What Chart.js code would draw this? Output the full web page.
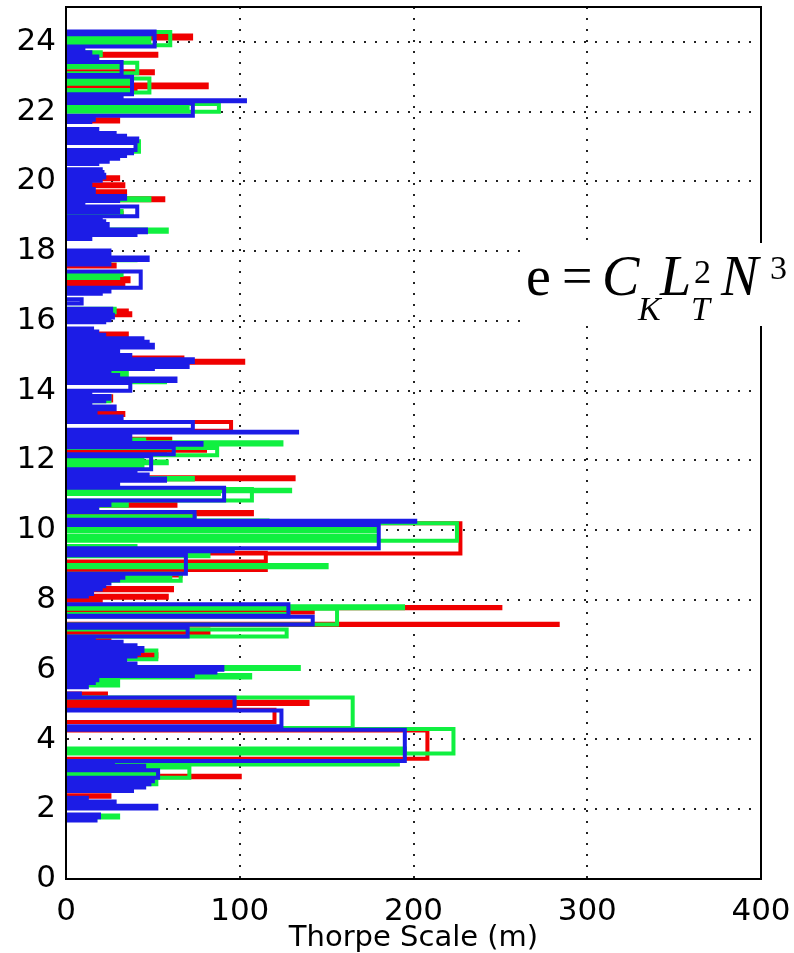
<!DOCTYPE html>
<html>
<head>
<meta charset="utf-8">
<script src="https://cdn.jsdelivr.net/npm/chart.js@4/dist/chart.umd.min.js"></script>
<style>
  html, body { margin: 0; padding: 0; background: #fff; }
  #wrap { width: 794px; height: 953px; }
</style>
</head>
<body>
<div id="wrap"><canvas id="chart" width="794" height="953"></canvas></div>
<script>
// overturns: [top depth, bottom depth, Thorpe scale (m)]
const redSegs = [
  [24.18, 24.10, 72], [23.98, 23.94, 25], [23.66, 23.60, 52], [23.16, 23.10, 50],
  [22.78, 22.70, 81], [22.72, 22.64, 40], [21.78, 21.72, 30], [21.20, 21.16, 25],
  [20.12, 20.06, 30], [19.92, 19.86, 33], [19.72, 19.66, 34], [19.52, 19.46, 56],
  [19.10, 19.04, 32], [17.62, 17.56, 28], [17.22, 17.14, 36], [17.12, 17.04, 33],
  [16.30, 16.24, 35], [16.22, 16.16, 37], [15.64, 15.56, 35], [14.95, 14.90, 67],
  [14.86, 14.80, 102], [14.50, 14.44, 30], [13.84, 13.72, 26], [13.36, 13.30, 33],
  [13.10, 12.85, 95], [12.62, 12.56, 60], [12.34, 12.28, 80], [12.30, 12.20, 57],
  [11.52, 11.46, 131], [10.76, 10.70, 63], [10.52, 10.46, 107], [10.26, 10.22, 126],
  [10.20, 9.33, 227], [9.35, 9.10, 115], [8.92, 8.86, 115], [8.85, 8.77, 66],
  [8.76, 8.70, 66], [8.34, 8.28, 61], [8.12, 8.06, 58], [8.02, 7.98, 20],
  [7.80, 7.76, 250], [7.70, 7.64, 142], [7.32, 7.28, 283], [7.15, 7.07, 82],
  [7.07, 7.00, 82], [6.86, 6.82, 25], [6.44, 6.38, 52], [5.32, 5.26, 23],
  [5.08, 5.02, 139], [5.10, 5.02, 97], [5.00, 4.90, 97], [4.85, 4.50, 120],
  [4.26, 3.45, 208], [2.96, 2.92, 100], [2.40, 2.36, 25]
];

const greenSegs = [
  [24.28, 23.90, 60], [24.22, 24.15, 48], [24.05, 23.97, 48], [23.70, 23.62, 20],
  [23.40, 23.10, 41], [23.35, 23.27, 30], [22.95, 22.55, 48], [22.88, 22.80, 36],
  [22.62, 22.56, 36], [22.22, 22.00, 88], [22.15, 22.07, 70], [21.15, 20.85, 42],
  [19.52, 19.46, 48], [19.15, 19.08, 32], [18.62, 18.56, 58], [17.80, 17.74, 40],
  [17.40, 17.32, 32], [17.31, 17.23, 30], [16.35, 16.25, 28], [16.25, 16.15, 20],
  [14.55, 14.45, 35], [14.30, 14.24, 57], [13.85, 13.77, 25], [13.76, 13.70, 25],
  [12.60, 12.55, 45], [12.52, 12.46, 124], [12.36, 12.15, 87], [12.10, 11.78, 44],
  [12.05, 11.97, 44], [11.97, 11.92, 58], [11.88, 11.80, 44], [11.50, 11.45, 73],
  [11.16, 11.12, 129], [11.18, 10.85, 107], [11.12, 11.04, 88], [10.80, 10.70, 35],
  [10.40, 10.30, 74], [10.28, 10.24, 116], [10.20, 9.70, 225], [10.05, 9.97, 178],
  [9.84, 9.76, 178], [9.55, 9.48, 40], [9.30, 9.25, 82], [9.00, 8.94, 150],
  [8.75, 8.55, 66], [8.70, 8.62, 60], [7.82, 7.76, 194], [7.75, 7.30, 156],
  [7.60, 7.52, 128], [7.15, 6.95, 127], [6.55, 6.30, 52], [6.08, 6.02, 134],
  [5.85, 5.78, 106], [5.70, 5.62, 30], [5.62, 5.55, 30], [5.20, 4.33, 165],
  [4.30, 3.60, 223], [3.74, 3.68, 195], [3.32, 3.28, 191], [3.20, 2.90, 71],
  [3.02, 2.94, 53], [2.95, 2.85, 50], [2.80, 2.72, 52], [1.82, 1.76, 30]
];

const blueSegs = [
  [24.30, 24.22, 51], [24.30, 23.87, 51], [23.80, 23.70, 10], [23.70, 23.60, 14],
  [23.58, 23.48, 18], [23.42, 23.05, 32], [23.00, 22.50, 38], [22.45, 22.36, 32],
  [22.33, 22.30, 103], [22.25, 21.88, 73], [21.84, 21.77, 16], [21.77, 21.70, 14],
  [21.50, 21.40, 18], [21.39, 21.31, 28], [21.31, 21.23, 34], [21.23, 21.15, 41],
  [21.10, 20.90, 40], [20.89, 20.81, 38], [20.81, 20.73, 34], [20.73, 20.65, 30],
  [20.64, 20.56, 24], [20.56, 20.50, 18], [20.35, 20.27, 20], [20.27, 20.19, 21],
  [20.19, 20.11, 22], [20.10, 20.02, 20], [19.95, 19.87, 14], [19.86, 19.78, 14],
  [19.78, 19.70, 16], [19.69, 19.61, 16], [19.58, 19.50, 34], [19.50, 19.44, 30],
  [19.40, 19.32, 10], [19.28, 19.00, 41], [19.20, 19.12, 30], [18.95, 18.87, 20],
  [18.86, 18.78, 22], [18.78, 18.70, 24], [18.62, 18.54, 46], [18.54, 18.46, 40],
  [18.42, 18.35, 14], [18.02, 17.94, 25], [17.94, 17.86, 25], [17.82, 17.75, 47],
  [17.72, 17.62, 25], [17.42, 16.95, 43], [16.92, 16.84, 25], [16.84, 16.78, 20],
  [16.62, 16.50, 9], [16.35, 16.27, 26], [16.27, 16.19, 26], [16.18, 16.10, 27],
  [16.10, 16.02, 25], [16.02, 15.96, 22], [15.78, 15.70, 15], [15.70, 15.62, 18],
  [15.60, 15.52, 22], [15.50, 15.42, 44], [15.40, 15.32, 47], [15.32, 15.24, 50],
  [15.22, 15.14, 30], [15.12, 15.04, 15], [15.02, 14.95, 37], [14.90, 14.82, 73],
  [14.76, 14.68, 70], [14.68, 14.62, 50], [14.60, 14.52, 25], [14.45, 14.38, 30],
  [14.35, 14.28, 63], [14.22, 14.00, 37], [13.96, 13.90, 14], [13.85, 13.77, 25],
  [13.76, 13.70, 22], [13.66, 13.60, 14], [13.55, 13.47, 28], [13.40, 13.32, 17],
  [13.26, 13.18, 32], [13.10, 12.88, 73], [12.82, 12.80, 133], [12.74, 12.66, 37],
  [12.66, 12.58, 37], [12.50, 12.45, 78], [12.38, 12.18, 62], [12.12, 11.75, 49],
  [11.70, 11.62, 40], [11.60, 11.52, 47], [11.48, 11.42, 57], [11.38, 11.32, 30],
  [11.22, 10.85, 91], [10.80, 10.72, 25], [10.72, 10.64, 18], [10.62, 10.58, 13],
  [10.52, 10.30, 74], [10.27, 10.24, 201], [10.15, 9.48, 180], [9.46, 9.40, 96],
  [9.38, 9.30, 33], [9.28, 8.75, 69], [8.72, 8.64, 33], [8.64, 8.56, 30],
  [8.55, 8.47, 25], [8.47, 8.39, 22], [8.38, 8.30, 20], [8.25, 8.17, 15],
  [8.17, 8.10, 12], [7.88, 7.55, 128], [7.52, 7.30, 142], [7.20, 6.95, 70],
  [6.92, 6.84, 16], [6.80, 6.72, 32], [6.70, 6.62, 40], [6.62, 6.54, 44],
  [6.54, 6.46, 42], [6.46, 6.38, 40], [6.36, 6.28, 34], [6.28, 6.20, 30],
  [6.18, 6.10, 40], [6.08, 6.00, 90], [6.00, 5.92, 86], [5.90, 5.82, 73],
  [5.78, 5.70, 18], [5.70, 5.62, 16], [5.58, 5.50, 12], [5.32, 5.26, 8],
  [5.20, 4.85, 97], [4.83, 4.38, 124], [4.35, 4.30, 115], [4.28, 3.38, 195],
  [3.32, 3.27, 27], [3.25, 3.15, 45], [3.12, 2.90, 53], [2.88, 2.80, 50],
  [2.80, 2.72, 48], [2.70, 2.62, 45], [2.60, 2.52, 38], [2.33, 2.25, 12],
  [2.22, 2.14, 28], [2.10, 2.02, 52], [1.85, 1.77, 19], [1.76, 1.68, 17]
];

const xTicks = [0, 100, 200, 300, 400];
const yTicks = [0, 2, 4, 6, 8, 10, 12, 14, 16, 18, 20, 22, 24];

// each overturn becomes a step: out from the axis, down at L, back to the axis
function stairs(segs) {
  const pts = [];
  segs.forEach(([top, bot, L]) => {
    pts.push({ x: 0, y: top }, { x: L, y: top }, { x: L, y: bot }, { x: 0, y: bot }, { x: 0, y: null });
  });
  return pts;
}

function series(label, segs, color, order) {
  return {
    label: label,
    data: stairs(segs),
    showLine: true,
    borderColor: color,
    backgroundColor: color,
    borderWidth: 4,
    pointRadius: 0,
    spanGaps: false,
    fill: false,
    order: order,
  };
}

const frameAndFormula = {
  id: 'frameAndFormula',
  afterDatasetsDraw(chart) {
    const { ctx, chartArea: a } = chart;
    ctx.save();
    ctx.strokeStyle = '#000';
    ctx.lineWidth = 2;
    ctx.strokeRect(a.left, a.top, a.right - a.left, a.bottom - a.top);
    ctx.restore();
  },
  afterDraw(chart) {
    const ctx = chart.ctx;
    ctx.save();
    ctx.fillStyle = '#fff';
    ctx.fillRect(521, 243, 273, 83);
    ctx.fillStyle = '#000';
    ctx.textBaseline = 'alphabetic';
    ctx.font = '56px "Liberation Serif"';
    ctx.fillText('e', 526, 295);
    ctx.font = '54px "Liberation Serif"';
    ctx.fillText('=', 562, 294);
    ctx.font = 'italic 56px "Liberation Serif"';
    ctx.fillText('C', 602, 295);
    ctx.fillText('L', 660, 295);
    ctx.fillText('N', 721, 295);
    ctx.font = 'italic 34px "Liberation Serif"';
    ctx.fillText('K', 638, 320);
    ctx.fillText('T', 691, 320);
    ctx.font = '34px "Liberation Serif"';
    ctx.fillText('2', 694, 283);
    ctx.fillText('3', 770, 279);
    ctx.restore();
  },
};

new Chart(document.getElementById('chart'), {
  type: 'scatter',
  data: {
    datasets: [
      series('red', redSegs, '#f00000', 3),
      series('green', greenSegs, '#10f040', 2),
      series('blue', blueSegs, '#1c1ce6', 1),
    ],
  },
  options: {
    responsive: false,
    animation: false,
    events: [],
    layout: { padding: { left: 0, right: 33, top: 7, bottom: 0 } },
    plugins: { legend: { display: false }, tooltip: { enabled: false } },
    scales: {
      x: {
        type: 'linear',
        min: 0,
        max: 400,
        afterFit: s => {
          s.height = 74;
          s.paddingLeft = 0;
          s.paddingRight = 0;
        },
        afterBuildTicks: s => { s.ticks = xTicks.map(v => ({ value: v })); },
        ticks: {
          color: '#000',
          padding: 14,
          font: { family: 'DejaVu Sans', size: 31 },
        },
        grid: {
          color: c => (c.tick.value === 0 || c.tick.value === 400 ? 'rgba(0,0,0,0)' : '#222'),
          lineWidth: 2,
          drawTicks: false,
        },
        border: { color: '#000', width: 2, dash: [2, 9] },
        title: {
          display: true,
          text: 'Thorpe Scale (m)',
          color: '#000',
          font: { family: 'DejaVu Sans', size: 29, lineHeight: 1 },
          padding: { top: 0, bottom: 0 },
        },
      },
      y: {
        type: 'linear',
        min: 0,
        max: 25,
        afterFit: s => {
          s.width = 66;
          s.paddingTop = 0;
          s.paddingBottom = 0;
        },
        afterBuildTicks: s => { s.ticks = yTicks.map(v => ({ value: v })); },
        ticks: {
          color: '#000',
          padding: 10,
          font: { family: 'DejaVu Sans', size: 31 },
        },
        grid: {
          color: c => (c.tick.value === 0 ? 'rgba(0,0,0,0)' : '#222'),
          lineWidth: 2,
          drawTicks: false,
        },
        border: { color: '#000', width: 2, dash: [2, 9] },
      },
    },
  },
  plugins: [frameAndFormula],
});
</script>
</body>
</html>
